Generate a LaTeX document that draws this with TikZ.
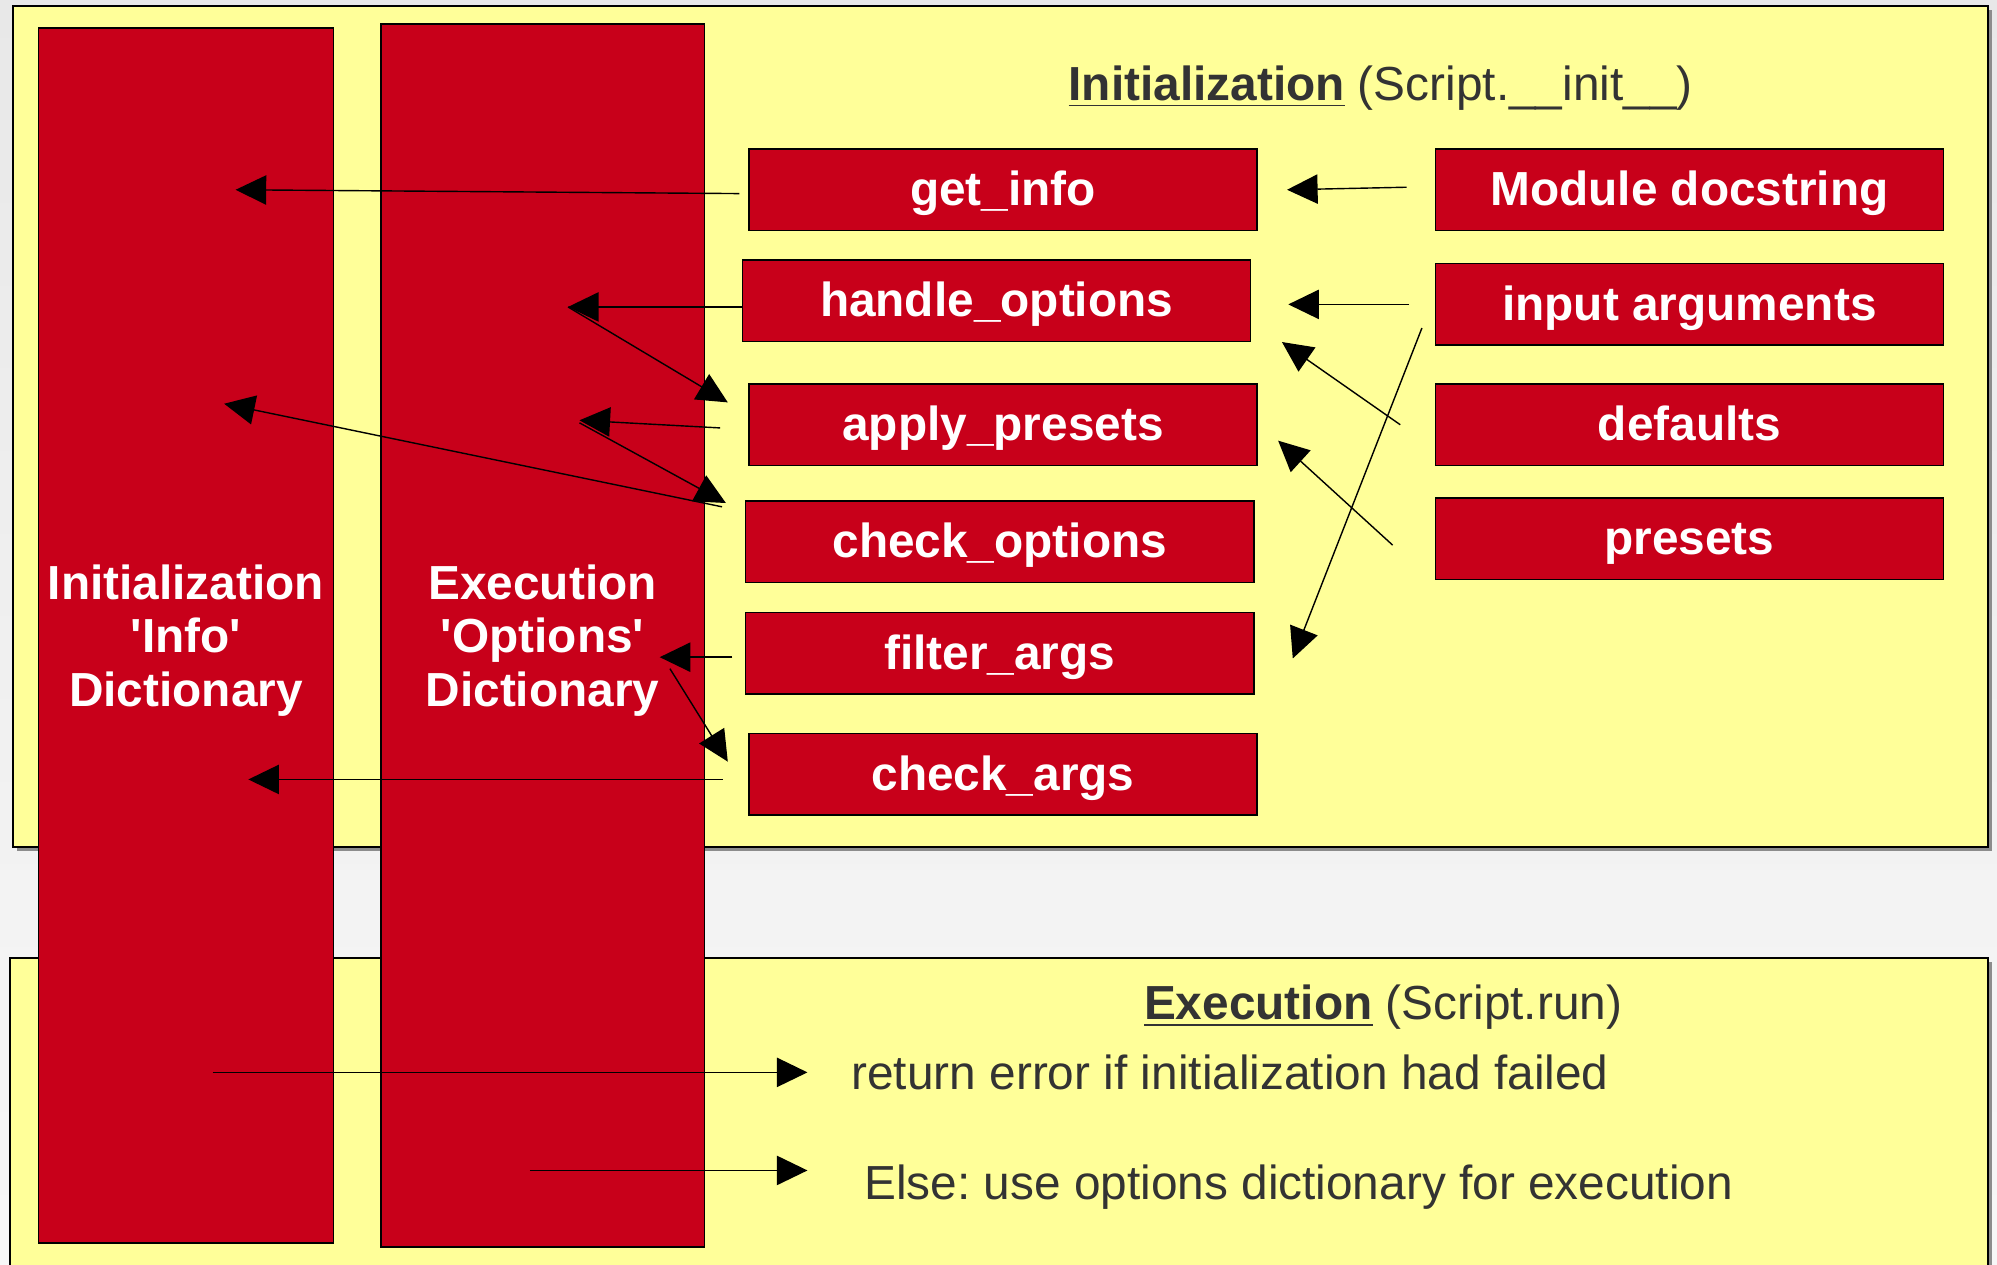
\documentclass[tikz,border=0pt]{standalone}
\usepackage{fontspec}
\setmainfont{Liberation Sans}
\usepackage{tikz}
\usetikzlibrary{arrows.meta}

\definecolor{boxred}{HTML}{C8001A}
\definecolor{panelyellow}{HTML}{FFFF99}
\definecolor{textgray}{HTML}{333333}
\newcommand\px{0.12736mm}
\newcommand\labelsize{\fontsize{13.6}{15.2}\selectfont}
\frenchspacing

\begin{document}
\begin{tikzpicture}[x=0.12736mm, y=-0.12736mm,
	every node/.style={font=\labelsize},
	panel/.style={draw=black, fill=panelyellow, line width=0.6pt},
	dict/.style={draw=black, fill=boxred, inner sep=0pt},
	dicttext/.style={text=white, align=center, inner sep=0pt, font=\labelsize\bfseries},
	func/.style={draw=black, fill=boxred, text=white, inner sep=0pt, minimum width=399*\px, minimum height=64*\px,
		text height=0.95em, text depth=0.05em, font=\labelsize\bfseries},
	heading/.style={text=textgray},
	note/.style={text=textgray, anchor=west, inner sep=0pt},
	flow/.style={-{Triangle[length=24*\px,width=23*\px]}, line width=0.4pt}]
	\useasboundingbox (0,0) rectangle (1568,993);
	\shade[top color=black!9, bottom color=black!3] (0,0) rectangle (1568,993);

	% the two phases
	\fill[black!45] (13,8) rectangle (1564,668);
	\draw[panel] (10,5) rectangle (1561,665);
	\fill[black!45] (11,755) rectangle (1564,1000);
	\draw[panel] (8,752) rectangle (1561,1000);

	% dictionaries
	\node[dict, minimum width=232*\px, minimum height=954*\px] (info) at (146,499) {};
	\node[dict, minimum width=254*\px, minimum height=960*\px] (opts) at (426,499) {};
	\node[dicttext] (infotext) at (146,503) {Initialization\\\textquotesingle Info\textquotesingle\\Dictionary};
	\node[dicttext] (optstext) at (426,503) {Execution\\\textquotesingle Options\textquotesingle\\Dictionary};

	\node[heading] (inittitle) at (1084,69) {\underline{\textbf{Initialization}} (Script.\_\_init\_\_)};
	\node[heading] (exectitle) at (1086,791) {\underline{\textbf{Execution}} (Script.run)};

	% init steps
	\node[func] (get) at (787.5,149) {get\_info};
	\node[func] (handle) at (782.5,236) {handle\_options};
	\node[func] (apply) at (787.5,333.5) {apply\_presets};
	\node[func] (checko) at (785,425.5) {check\_options};
	\node[func] (filter) at (785,513) {filter\_args};
	\node[func] (checka) at (787.5,608) {check\_args};

	% sources
	\node[func] (doc) at (1326.5,149) {Module docstring};
	\node[func] (inargs) at (1326.5,239) {input arguments};
	\node[func] (defaults) at (1326.5,333.5) {defaults};
	\node[func] (presets) at (1326.5,423) {presets};

	\node[note] (ret) at (668,842) {return error if initialization had failed};
	\node[note] (else) at (678,932) {Else: use options dictionary for execution};

	\coordinate (i1) at (185,149);
	\coordinate (i2) at (176,317);
	\coordinate (i3) at (195,612);
	\coordinate (i4) at (167,842);
	\coordinate (o1) at (446,241);
	\coordinate (o2) at (455,330);
	\coordinate (o3) at (518,516);
	\coordinate (o4) at (526,525);
	\coordinate (o5) at (416,919);

	\draw[flow] ([xshift=-7*\px,yshift=-3*\px]get.west) -- (i1);
	\draw[flow] ([yshift=-5*\px]handle.west) -- (o1);
	\draw[flow] (o1) -- ([xshift=-16*\px,yshift=-15*\px]apply.north west);
	\draw[flow] ([xshift=-22*\px,yshift=-2.5*\px]apply.west) -- (o2);
	\draw[flow] ([yshift=-2*\px]o2) -- ([xshift=-15*\px,yshift=-2*\px]checko.north west);
	\draw[flow] ([xshift=-18*\px,yshift=-5*\px]checko.north west) -- (i2);
	\draw[flow] ([xshift=-10*\px,yshift=-3*\px]filter.west) -- (o3);
	\draw[flow] (o4) -- ([xshift=-16*\px,yshift=10*\px]checka.west);
	\draw[flow] ([xshift=-20*\px,yshift=-4*\px]checka.west) -- (i3);

	\draw[flow] ([xshift=-22*\px,yshift=2*\px]doc.west) -- ([xshift=23*\px]get.east);
	\draw[flow] ([xshift=-20*\px]inargs.west) -- ([xshift=29*\px,yshift=-3*\px]handle.east);
	\draw[flow] ([xshift=-27*\px]defaults.west) -- ([xshift=24*\px]handle.south east);
	\draw[flow] ([xshift=-33*\px,yshift=-5*\px]presets.west) -- ([xshift=16*\px,yshift=-12.5*\px]apply.east);
	\draw[flow] ([xshift=-10*\px,yshift=14*\px]inargs.south west) -- ([xshift=30*\px,yshift=-4*\px]filter.east);

	\draw[flow] (i4) -- ([xshift=-34*\px]ret.west);
	\draw[flow] (o5) -- ([xshift=-44*\px,yshift=13*\px]else.west);
\end{tikzpicture}
\end{document}
